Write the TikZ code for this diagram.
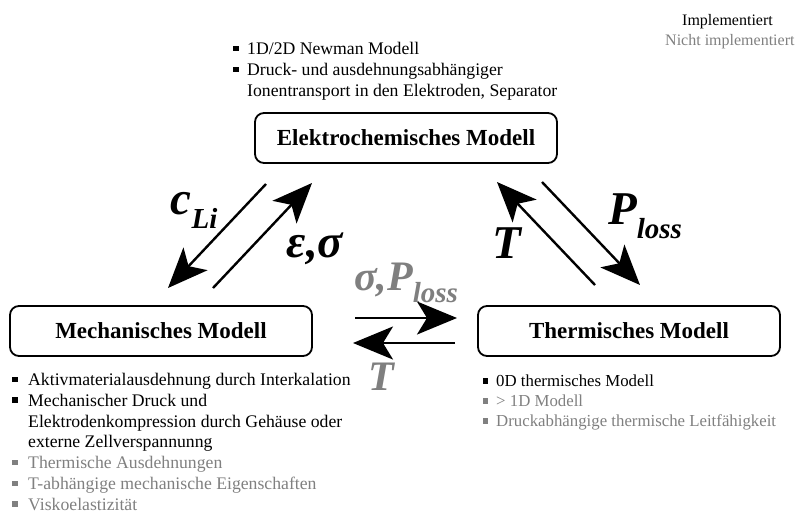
\documentclass[tikz,border=0pt]{standalone}
\usepackage{fontspec}
\setmainfont{Liberation Serif}
\usetikzlibrary{arrows.meta}
\definecolor{ngray}{HTML}{808080}
\definecolor{lgray}{HTML}{7F7F7F}
\newcommand\bsq{\rule[0.2em]{0.3em}{0.3em}}
\newcommand\bli[2][14pt]{\makebox[#1][l]{\bsq}#2}
\newcommand\cont[2][14pt]{\hspace*{#1}#2}
\begin{document}
\begin{tikzpicture}[x=1pt,y=-1pt,
  model/.style={draw, line width=1.8pt, rounded corners=9pt, minimum width=302pt, minimum height=50pt, inner sep=0pt, font=\fontsize{23}{26}\selectfont\bfseries},
  big/.style={-{Stealth[length=40pt,width=33pt,inset=10pt]}, line width=2.4pt},
  lbl/.style={inner sep=0pt, font=\fontsize{47}{50}\selectfont\bfseries\itshape},
  mlbl/.style={inner sep=0pt, text=lgray, font=\fontsize{42}{44}\selectfont\bfseries\itshape},
  listbox/.style={align=left, anchor=north west, inner sep=0pt, font=\fontsize{17.7}{21}\selectfont}]
\useasboundingbox (0,0) rectangle (795,515);

\node[model] (ec) at (406,138) {Elektrochemisches Modell};
\node[model] (me) at (161,331) {Mechanisches Modell};
\node[model] (th) at (629,331) {Thermisches Modell};

% arrows left pair
\coordinate (a1s) at (266,184); \coordinate (a1e) at (168,288);
\coordinate (a2s) at (213,288); \coordinate (a2e) at (312,183);
\draw[big] (a1s) -- (a1e);
\draw[big] (a2s) -- (a2e);
% right pair
\coordinate (b1s) at (595,285); \coordinate (b1e) at (497,182);
\coordinate (b2s) at (542,182); \coordinate (b2e) at (640,285);
\draw[big] (b1s) -- (b1e);
\draw[big] (b2s) -- (b2e);
% middle
\coordinate (c1s) at (355,318); \coordinate (c1e) at (457,318);
\coordinate (c2s) at (455,343); \coordinate (c2e) at (353,343);
\draw[big] (c1s) -- (c1e);
\draw[big] (c2s) -- (c2e);

% labels
\node[lbl] (lcli) at (194,210) {c\raisebox{-0.3em}{\fontsize{29}{31}\selectfont Li}};
\node[lbl] (leps) at (315,249) {ε,σ};
\node[lbl] (lT1) at (507,243) {T};
\node[lbl] (lpl) at (645,216) {P\raisebox{-0.3em}{\fontsize{29}{31}\selectfont loss}};
\node[mlbl] (lsp) at (406,283) {σ,P\raisebox{-0.3em}{\fontsize{29}{31}\selectfont loss}};
\node[mlbl] (lT2) at (381,377) {T};

% lists
\node[listbox] (ltop) at (233,42) {\bli{1D/2D Newman Modell}\\ \bli{Druck- und ausdehnungsabhängiger}\\ \cont{Ionentransport in den Elektroden, Separator}};
\node[listbox, font=\fontsize{17.7}{20.8}\selectfont] (lme) at (12,373) {\bli[16pt]{Aktivmaterialausdehnung durch Interkalation}\\ \bli[16pt]{Mechanischer Druck und}\\ \cont[16pt]{Elektrodenkompression durch Gehäuse oder}\\ \cont[16pt]{externe Zellverspannunng}\\ \textcolor{ngray}{\bli[16pt]{Thermische Ausdehnungen}}\\ \textcolor{ngray}{\bli[16pt]{T-abhängige mechanische Eigenschaften}}\\ \textcolor{ngray}{\bli[16pt]{Viskoelastizität}}};
\node[listbox, font=\fontsize{16.8}{20}\selectfont] (lth) at (483,375) {\bli[13pt]{0D thermisches Modell}\\ \textcolor{ngray}{\bli[13pt]{> 1D Modell}}\\ \textcolor{ngray}{\bli[13pt]{Druckabhängige thermische Leitfähigkeit}}};

% legend
\node[listbox, font=\fontsize{16}{22}\selectfont] (leg1) at (682,14) {Implementiert};
\node[listbox, font=\fontsize{16}{22}\selectfont, text=ngray] (leg2) at (665,34) {Nicht implementiert};
\end{tikzpicture}
\end{document}
